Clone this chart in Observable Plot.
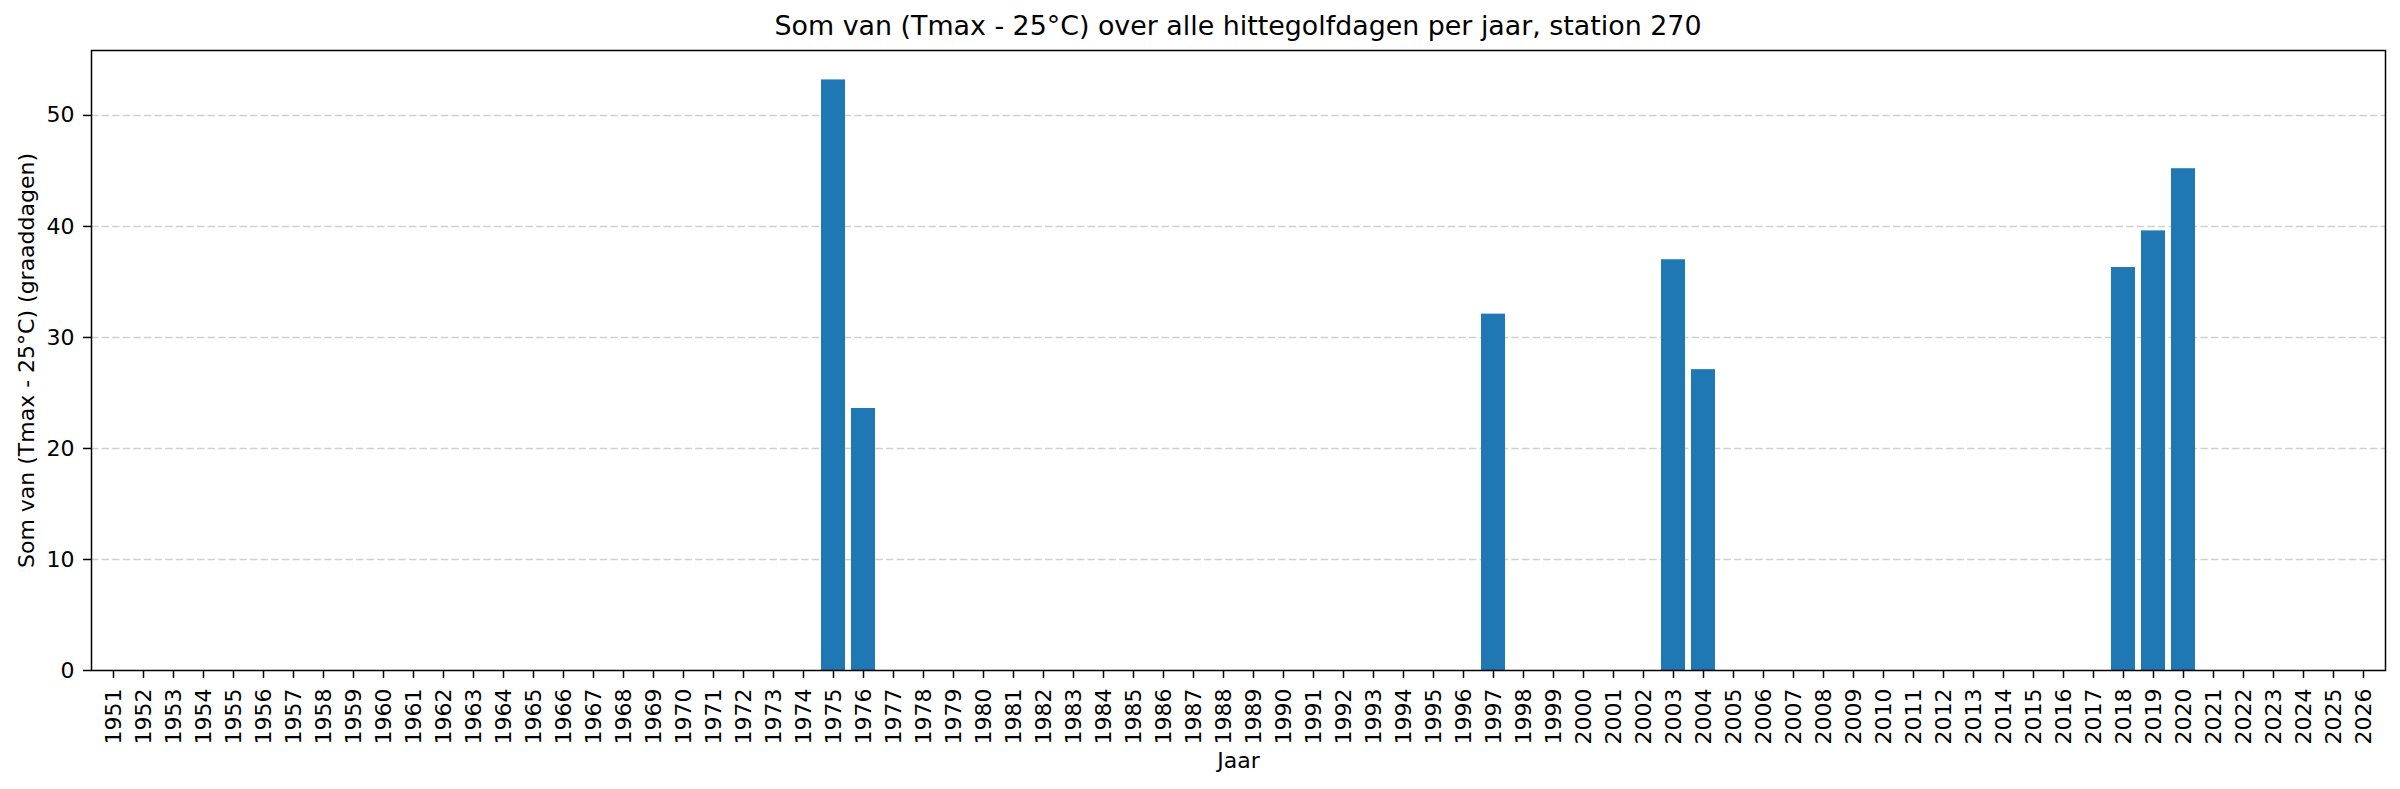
<!DOCTYPE html>
<html><head><meta charset="utf-8">
<script src="https://cdn.jsdelivr.net/npm/d3@7"></script>
<script src="https://cdn.jsdelivr.net/npm/@observablehq/plot@0.6"></script>
<style>
body{margin:0;background:#fff;}
#title{box-sizing:border-box;height:44px;padding:10px 15px 0 91px;text-align:center;font-family:"DejaVu Sans";font-size:26.85px;line-height:normal;color:#000;white-space:nowrap}
</style></head><body>
<div id="title">Som van (Tmax - 25°C) over alle hittegolfdagen per jaar, station 270</div>
<div id="chart"></div>
<script>
const years = [
  "1951","1952","1953","1954","1955","1956","1957","1958","1959","1960",
  "1961","1962","1963","1964","1965","1966","1967","1968","1969","1970",
  "1971","1972","1973","1974","1975","1976","1977","1978","1979","1980",
  "1981","1982","1983","1984","1985","1986","1987","1988","1989","1990",
  "1991","1992","1993","1994","1995","1996","1997","1998","1999","2000",
  "2001","2002","2003","2004","2005","2006","2007","2008","2009","2010",
  "2011","2012","2013","2014","2015","2016","2017","2018","2019","2020",
  "2021","2022","2023","2024","2025","2026"
];
const values = [
  0,0,0,0,0,0,0,0,0,0,
  0,0,0,0,0,0,0,0,0,0,
  0,0,0,0,53.2,23.6,0,0,0,0,
  0,0,0,0,0,0,0,0,0,0,
  0,0,0,0,0,0,32.1,0,0,0,
  0,0,37.0,27.1,0,0,0,0,0,0,
  0,0,0,0,0,0,0,36.3,39.6,45.2,
  0,0,0,0,0,0
];
const yTicks = [0,10,20,30,40,50];
const gridTicks = [10,20,30,40,50];
const yMax = 55.85;
const data = years.map((y,i)=>({year:y, value:values[i]}));

const chart = Plot.plot({
  width:2400, height:745,
  marginLeft:91, marginRight:15, marginTop:6, marginBottom:119,
  style:{fontFamily:"DejaVu Sans", fontSize:"22px", color:"#000", background:"#fff", overflow:"visible"},
  x:{type:"band", domain:years, paddingInner:0.2, paddingOuter:0.1, label:null},
  y:{domain:[0,yMax], label:null},
  marks:[
    Plot.gridY(gridTicks, {stroke:"#b0b0b0", strokeOpacity:0.6, strokeWidth:1.5, strokeDasharray:"7.4,3.2"}),
    Plot.barY(data, {x:"year", y:"value", fill:"#1f77b4"}),
    Plot.axisX({tickRotate:-90, tickSize:8, tickPadding:10, strokeWidth:1.5, fontSize:22, label:"Jaar", labelArrow:"none", labelAnchor:"center", labelOffset:97}),
    Plot.axisY(yTicks, {tickSize:8, tickPadding:9, strokeWidth:1.5, fontSize:22, tickFormat:d=>String(d), label:"Som van (Tmax - 25°C) (graaddagen)", labelArrow:"none", labelAnchor:"center", labelOffset:73}),
    Plot.frame({stroke:"#000", strokeWidth:1.5})
  ]
});
document.getElementById("chart").appendChild(chart);
</script>
</body></html>
